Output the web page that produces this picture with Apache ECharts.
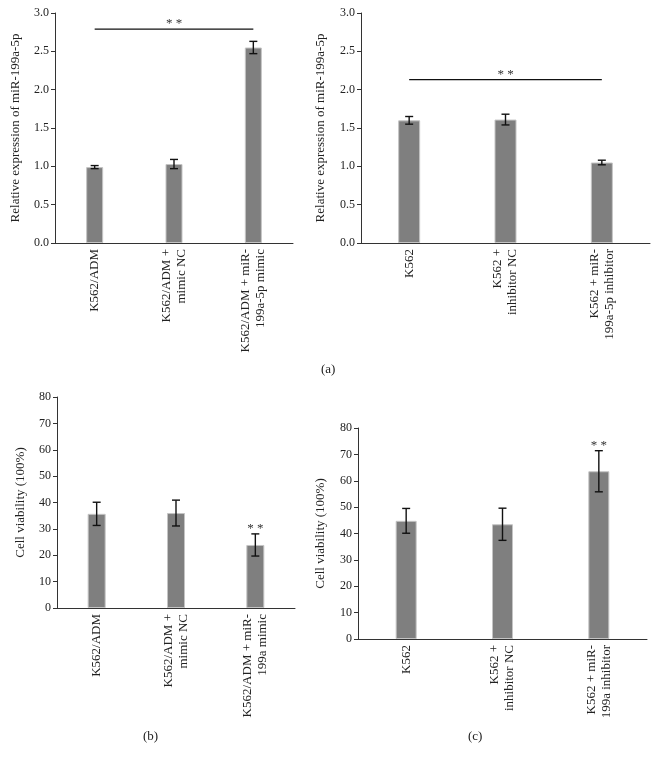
<!DOCTYPE html>
<html>
<head>
<meta charset="utf-8">
<script src="https://cdn.jsdelivr.net/npm/echarts@6/dist/echarts.min.js"></script>
<style>html,body{margin:0;padding:0;background:#fff;}#c{width:659px;height:764px;}</style>
</head>
<body>
<div id="c"></div>
<script>
// ---- data ----
var catsA1 = ['K562/ADM', 'K562/ADM +\nmimic NC', 'K562/ADM + miR-\n199a-5p mimic'];
var valsA1 = [0.99, 1.03, 2.55];
var errA1  = [0.02, 0.06, 0.08];
var sigA1  = [0, 2.79, 2];

var catsA2 = ['K562', 'K562 +\ninhibitor NC', 'K562 + miR-\n199a-5p inhibitor'];
var valsA2 = [1.60, 1.61, 1.05];
var errA2  = [0.05, 0.07, 0.03];
var sigA2  = [0, 2.13, 2];

var catsB = ['K562/ADM', 'K562/ADM +\nmimic NC', 'K562/ADM + miR-\n199a mimic'];
var valsB = [35.7, 36.0, 23.9];
var errB  = [4.4, 4.9, 4.2];
var starB = 2;

var catsC = ['K562', 'K562 +\ninhibitor NC', 'K562 + miR-\n199a inhibitor'];
var valsC = [44.8, 43.5, 63.6];
var errC  = [4.7, 6.1, 7.8];
var starC = 2;

var yNameA = 'Relative expression of miR-199a-5p';
var yNameB = 'Cell viability (100%)';
var captions = ['(a)', '(b)', '(c)'];

// ---- styles ----
var FONT = 'Liberation Serif';
var TXT = '#222';
var AX = '#333';
var BAR = '#7f7f7f';

function xAx(idx, cats) {
  return {
    type: 'category', gridIndex: idx, data: cats,
    axisLine: { lineStyle: { color: AX, width: 1 } },
    axisTick: { length: 4, lineStyle: { color: AX } },
    axisLabel: { rotate: 90, fontFamily: FONT, fontSize: 13, lineHeight: 15, color: TXT, margin: 6 }
  };
}
function yAx(idx, max, interval, name, gap, dec) {
  return {
    type: 'value', gridIndex: idx, min: 0, max: max, interval: interval,
    name: name, nameLocation: 'middle', nameGap: gap,
    nameTextStyle: { fontFamily: FONT, fontSize: 13, color: TXT },
    axisLine: { show: true, lineStyle: { color: AX, width: 1 } },
    axisTick: { show: true, length: 4, lineStyle: { color: AX } },
    splitLine: { show: false },
    axisLabel: { fontFamily: FONT, fontSize: 12, color: TXT, margin: 6,
      formatter: function (v) { return dec ? v.toFixed(1) : String(v); } }
  };
}
function barSeries(idx, vals, w) {
  return {
    type: 'bar', xAxisIndex: idx, yAxisIndex: idx, data: vals, barWidth: w,
    itemStyle: { color: BAR, borderColor: '#c4c4c4', borderWidth: 1 },
    silent: true, animation: false
  };
}
function errSeries(idx, vals, errs, starIdx) {
  var data = vals.map(function (v, i) { return [i, v, errs[i], i === starIdx ? 1 : 0]; });
  return {
    type: 'custom', xAxisIndex: idx, yAxisIndex: idx, data: data, silent: true, animation: false, z: 5,
    renderItem: function (params, api) {
      var x = api.value(0), v = api.value(1), e = api.value(2), s = api.value(3);
      var t = api.coord([x, v + e]), b = api.coord([x, v - e]);
      var hw = 4;
      var st = { stroke: '#111', lineWidth: 1.4 };
      var ch = [
        { type: 'line', shape: { x1: t[0], y1: t[1], x2: b[0], y2: b[1] }, style: st },
        { type: 'line', shape: { x1: t[0] - hw, y1: t[1], x2: t[0] + hw, y2: t[1] }, style: st },
        { type: 'line', shape: { x1: b[0] - hw, y1: b[1], x2: b[0] + hw, y2: b[1] }, style: st }
      ];
      if (s) {
        ch.push({ type: 'text', style: { x: t[0], y: t[1] + 1, text: '* *', fill: '#333',
          font: '13px "' + FONT + '"', align: 'center', verticalAlign: 'bottom' } });
      }
      return { type: 'group', children: ch };
    }
  };
}
function sigSeries(idx, sig) {
  return {
    type: 'custom', xAxisIndex: idx, yAxisIndex: idx, data: [sig], silent: true, animation: false, z: 5,
    renderItem: function (params, api) {
      var p0 = api.coord([api.value(0), api.value(1)]);
      var p1 = api.coord([api.value(2), api.value(1)]);
      return { type: 'group', children: [
        { type: 'line', shape: { x1: p0[0], y1: p0[1], x2: p1[0], y2: p1[1] }, style: { stroke: '#111', lineWidth: 1.2 } },
        { type: 'text', style: { x: (p0[0] + p1[0]) / 2, y: p0[1] + 1, text: '* *', fill: '#333',
          font: '13px "' + FONT + '"', align: 'center', verticalAlign: 'bottom' } }
      ] };
    }
  };
}

var chart = echarts.init(document.getElementById('c'), null, { renderer: 'canvas' });
chart.setOption({
  animation: false,
  backgroundColor: '#fff',
  textStyle: { fontFamily: FONT },
  title: [
    { text: captions[0], left: 321, top: 363, textStyle: { fontFamily: FONT, fontSize: 13, fontWeight: 'normal', color: TXT }, padding: 0 },
    { text: captions[1], left: 143, top: 730, textStyle: { fontFamily: FONT, fontSize: 13, fontWeight: 'normal', color: TXT }, padding: 0 },
    { text: captions[2], left: 468, top: 730, textStyle: { fontFamily: FONT, fontSize: 13, fontWeight: 'normal', color: TXT }, padding: 0 }
  ],
  grid: [
    { left: 55, top: 13, width: 238, height: 230 },
    { left: 361, top: 13, width: 289, height: 230 },
    { left: 57, top: 397, width: 238, height: 211 },
    { left: 358, top: 428, width: 289, height: 211 }
  ],
  xAxis: [xAx(0, catsA1), xAx(1, catsA2), xAx(2, catsB), xAx(3, catsC)],
  yAxis: [
    yAx(0, 3, 0.5, yNameA, 33, true),
    yAx(1, 3, 0.5, yNameA, 34, true),
    yAx(2, 80, 10, yNameB, 30, false),
    yAx(3, 80, 10, yNameB, 31, false)
  ],
  series: [
    barSeries(0, valsA1, 17), errSeries(0, valsA1, errA1, -1), sigSeries(0, sigA1),
    barSeries(1, valsA2, 22), errSeries(1, valsA2, errA2, -1), sigSeries(1, sigA2),
    barSeries(2, valsB, 18), errSeries(2, valsB, errB, starB),
    barSeries(3, valsC, 21), errSeries(3, valsC, errC, starC)
  ]
});
</script>
</body>
</html>
